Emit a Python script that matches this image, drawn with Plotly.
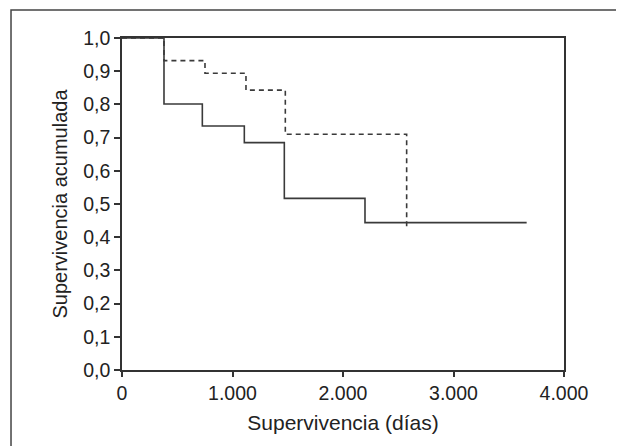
import plotly.graph_objects as go

# Kaplan-Meier step curves (time in days, cumulative survival)
solid_days = [0, 380, 727, 1107, 1469, 2199, 3662]
solid_surv = [1.0, 0.801, 0.735, 0.685, 0.517, 0.444, 0.444]

dashed_days = [0, 380, 751, 1122, 1478, 2576]
dashed_surv = [1.0, 0.932, 0.894, 0.843, 0.710, 0.427]

x_ticks = [0, 1000, 2000, 3000, 4000]
x_tick_labels = ["0", "1.000", "2.000", "3.000", "4.000"]
y_ticks = [0.0, 0.1, 0.2, 0.3, 0.4, 0.5, 0.6, 0.7, 0.8, 0.9, 1.0]
y_tick_labels = ["0,0", "0,1", "0,2", "0,3", "0,4", "0,5", "0,6", "0,7", "0,8", "0,9", "1,0"]

FONT = "Liberation Sans, Arial, sans-serif"
INK = "#333333"

fig = go.Figure()
fig.add_trace(go.Scatter(
    x=dashed_days, y=dashed_surv, mode="lines", line_shape="hv",
    line=dict(color="#3a3a3a", width=1.6, dash="5px,4px"), showlegend=False,
    cliponaxis=False,
))
fig.add_trace(go.Scatter(
    x=solid_days, y=solid_surv, mode="lines", line_shape="hv",
    line=dict(color="#3a3a3a", width=1.6), showlegend=False,
    cliponaxis=False,
))

fig.update_layout(
    width=624, height=446,
    margin=dict(l=114, r=68, t=30, b=84, autoexpand=False),
    paper_bgcolor="white", plot_bgcolor="white",
    font=dict(family=FONT, size=19.5, color="#222222"),
    xaxis=dict(
        range=[0, 4000], tickvals=x_ticks, ticktext=x_tick_labels,
        showgrid=False, zeroline=False,
        showline=True, linecolor=INK, linewidth=1.5, mirror=True,
        ticks="outside", ticklen=5, tickwidth=1.5, tickcolor=INK,
        ticklabelstandoff=0,
        title=dict(text="Supervivencia (días)", font=dict(size=21), standoff=12),
    ),
    yaxis=dict(
        range=[0, 1.0], tickvals=y_ticks, ticktext=y_tick_labels,
        showgrid=False, zeroline=False,
        showline=True, linecolor=INK, linewidth=1.5, mirror=True,
        ticks="outside", ticklen=6, tickwidth=1.5, tickcolor=INK,
        ticklabelstandoff=0,
        title=dict(text="Supervivencia acumulada", font=dict(size=20), standoff=10),
    ),
    shapes=[dict(
        type="rect", xref="paper", yref="paper",
        x0=-0.2511, x1=1.3, y0=-0.4, y1=1.0843,
        line=dict(color="#444444", width=1.5), fillcolor="rgba(0,0,0,0)",
        layer="below",
    )],
)

fig.write_html("out.html")
